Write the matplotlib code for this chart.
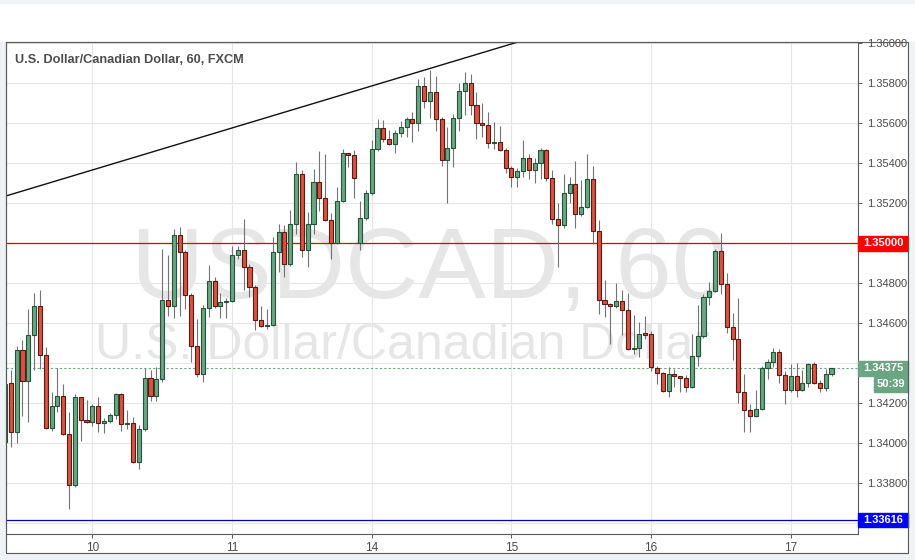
import matplotlib
matplotlib.use("Agg")
import matplotlib.pyplot as plt
from matplotlib.patches import Rectangle
from matplotlib.transforms import blended_transform_factory
import numpy as np

# USDCAD hourly candles
opens = [1.34008, 1.34301, 1.34059, 1.34468, 1.34314, 1.34541, 1.34688, 1.34441, 1.34076, 1.34188,
         1.34238, 1.34046, 1.33791, 1.34231, 1.34116, 1.34106, 1.34186, 1.34101, 1.34111, 1.34141,
         1.34246, 1.34096, 1.34101, 1.33906, 1.34071, 1.34326, 1.34239, 1.34321, 1.34716, 1.34686,
         1.35041, 1.34956, 1.34741, 1.34486, 1.34346, 1.34676, 1.34811, 1.34686, 1.34706, 1.34711,
         1.34941, 1.34966, 1.34881, 1.34781, 1.34616, 1.34586, 1.34591, 1.34956, 1.35056, 1.34896,
         1.35098, 1.35346, 1.34966, 1.35098, 1.35306, 1.35226, 1.35116, 1.35003, 1.35211, 1.35451,
         1.35441, 1.35003, 1.35126, 1.35251, 1.35471, 1.35576, 1.35521, 1.35496, 1.35551, 1.35581,
         1.35621, 1.35601, 1.35788, 1.35714, 1.35756, 1.35621, 1.35418, 1.35476, 1.35626, 1.35761,
         1.35801, 1.35691, 1.35601, 1.35591, 1.35501, 1.35506, 1.35468, 1.35376, 1.35331, 1.35361,
         1.35426, 1.35366, 1.35401, 1.35468, 1.35326, 1.35121, 1.35091, 1.35251, 1.35296, 1.35148,
         1.35181, 1.35321, 1.35063, 1.34716, 1.34698, 1.34688, 1.34711, 1.34666, 1.34471, 1.34476,
         1.34550, 1.34546, 1.34379, 1.34351, 1.34261, 1.34346, 1.34336, 1.34326, 1.34281, 1.34436,
         1.34536, 1.34731, 1.34762, 1.34961, 1.34796, 1.34584, 1.34521, 1.34256, 1.34166, 1.34136,
         1.34174, 1.34376, 1.34406, 1.34456, 1.34341, 1.34266, 1.34338, 1.34266, 1.34301, 1.34396,
         1.34301, 1.34276, 1.34346]
highs = [1.34318, 1.34368, 1.34487, 1.34518, 1.34673, 1.34751, 1.34768, 1.34481, 1.34258, 1.34379,
         1.34298, 1.34156, 1.34248, 1.34233, 1.34218, 1.34196, 1.34233, 1.34126, 1.34153, 1.34254,
         1.34250, 1.34168, 1.34134, 1.34093, 1.34379, 1.34368, 1.34381, 1.34973, 1.34943, 1.35071,
         1.35081, 1.34968, 1.34754, 1.34623, 1.34693, 1.34893, 1.34831, 1.34751, 1.34726, 1.34988,
         1.34988, 1.35121, 1.34898, 1.34793, 1.34688, 1.34671, 1.35031, 1.35098, 1.35093, 1.35168,
         1.35409, 1.35368, 1.35156, 1.35373, 1.35464, 1.35448, 1.35151, 1.35284, 1.35471, 1.35455,
         1.35468, 1.35213, 1.35268, 1.35518, 1.35621, 1.35618, 1.35568, 1.35568, 1.35614, 1.35634,
         1.35659, 1.35823, 1.35834, 1.35868, 1.35838, 1.35631, 1.35581, 1.35648, 1.35804, 1.35859,
         1.35846, 1.35756, 1.35704, 1.35656, 1.35609, 1.35588, 1.35476, 1.35388, 1.35376, 1.35518,
         1.35448, 1.35426, 1.35476, 1.35472, 1.35368, 1.35201, 1.35348, 1.35331, 1.35413, 1.35318,
         1.35448, 1.35388, 1.35118, 1.34818, 1.34702, 1.34801, 1.34768, 1.34751, 1.34643, 1.34609,
         1.34638, 1.34564, 1.34387, 1.34355, 1.34384, 1.34373, 1.34340, 1.34343, 1.34546, 1.34694,
         1.34747, 1.34809, 1.34971, 1.35054, 1.34851, 1.34651, 1.34726, 1.34348, 1.34198, 1.34268,
         1.34389, 1.34421, 1.34479, 1.34473, 1.34363, 1.34396, 1.34401, 1.34368, 1.34401, 1.34406,
         1.34318, 1.34373, 1.34379]
lows = [1.33983, 1.33984, 1.34001, 1.34139, 1.34109, 1.34368, 1.34371, 1.34073, 1.34064, 1.34159,
        1.34043, 1.33674, 1.33784, 1.34014, 1.34100, 1.34089, 1.34059, 1.34054, 1.34102, 1.34121,
        1.34064, 1.34071, 1.33903, 1.33874, 1.34063, 1.34214, 1.34214, 1.34309, 1.34639, 1.34629,
        1.34639, 1.34671, 1.34409, 1.34331, 1.34306, 1.34634, 1.34678, 1.34626, 1.34626, 1.34705,
        1.34921, 1.34768, 1.34734, 1.34568, 1.34581, 1.34571, 1.34585, 1.34859, 1.34834, 1.34885,
        1.35048, 1.34931, 1.34881, 1.35048, 1.35164, 1.35110, 1.34921, 1.34998, 1.35205, 1.35381,
        1.35226, 1.34968, 1.35120, 1.35245, 1.35465, 1.35509, 1.35490, 1.35451, 1.35534, 1.35531,
        1.35509, 1.35564, 1.35676, 1.35626, 1.35564, 1.35389, 1.35201, 1.35381, 1.35564, 1.35643,
        1.35643, 1.35521, 1.35531, 1.35476, 1.35473, 1.35462, 1.35354, 1.35284, 1.35284, 1.35334,
        1.35321, 1.35304, 1.35321, 1.35314, 1.35098, 1.34884, 1.35076, 1.35204, 1.35076, 1.35138,
        1.35175, 1.34996, 1.34646, 1.34631, 1.34496, 1.34676, 1.34543, 1.34466, 1.34446, 1.34434,
        1.34521, 1.34363, 1.34296, 1.34258, 1.34234, 1.34281, 1.34259, 1.34259, 1.34277, 1.34387,
        1.34530, 1.34693, 1.34756, 1.34748, 1.34551, 1.34418, 1.34201, 1.34059, 1.34059, 1.34130,
        1.34168, 1.34321, 1.34384, 1.34301, 1.34196, 1.34256, 1.34234, 1.34260, 1.34284, 1.34296,
        1.34259, 1.34264, 1.34339]
closes = [1.34298, 1.34059, 1.34468, 1.34314, 1.34541, 1.34688, 1.34441, 1.34076, 1.34188, 1.34238,
          1.34046, 1.33791, 1.34231, 1.34116, 1.34106, 1.34186, 1.34101, 1.34111, 1.34141, 1.34246,
          1.34096, 1.34101, 1.33906, 1.34071, 1.34326, 1.34239, 1.34321, 1.34716, 1.34686, 1.35041,
          1.34956, 1.34741, 1.34486, 1.34346, 1.34676, 1.34811, 1.34686, 1.34706, 1.34711, 1.34941,
          1.34966, 1.34881, 1.34781, 1.34616, 1.34586, 1.34591, 1.34956, 1.35056, 1.34896, 1.35098,
          1.35346, 1.34966, 1.35098, 1.35306, 1.35226, 1.35116, 1.35003, 1.35211, 1.35451, 1.35441,
          1.35326, 1.35126, 1.35251, 1.35471, 1.35576, 1.35521, 1.35496, 1.35551, 1.35581, 1.35621,
          1.35601, 1.35788, 1.35714, 1.35756, 1.35621, 1.35418, 1.35476, 1.35626, 1.35761, 1.35801,
          1.35691, 1.35601, 1.35591, 1.35501, 1.35506, 1.35468, 1.35376, 1.35331, 1.35361, 1.35426,
          1.35366, 1.35401, 1.35468, 1.35326, 1.35121, 1.35091, 1.35251, 1.35296, 1.35148, 1.35181,
          1.35321, 1.35063, 1.34716, 1.34698, 1.34688, 1.34711, 1.34666, 1.34471, 1.34476, 1.34546,
          1.34543, 1.34384, 1.34351, 1.34261, 1.34346, 1.34336, 1.34326, 1.34281, 1.34436, 1.34536,
          1.34731, 1.34762, 1.34961, 1.34796, 1.34584, 1.34521, 1.34256, 1.34166, 1.34136, 1.34174,
          1.34376, 1.34406, 1.34456, 1.34341, 1.34266, 1.34338, 1.34266, 1.34301, 1.34396, 1.34301,
          1.34276, 1.34346, 1.34375]

day_labels = ["10", "11", "14", "15", "16", "17"]
day_start = [15, 39, 63, 87, 111, 135]  # candle index of each day's first bar
price_ticks = [1.336, 1.338, 1.340, 1.342, 1.344, 1.346, 1.348, 1.350, 1.352, 1.354, 1.356, 1.358, 1.360]

level_red = 1.35000
level_blue = 1.33616
last_price = 1.34375
countdown = "50:39"
trend_x = [0.2, 87.6]
trend_y = [1.35238, 1.36003]

title = "U.S. Dollar/Canadian Dollar, 60, FXCM"
watermark1 = "USDCAD, 60"
watermark2 = "U.S. Dollar/Canadian Dollar"

UP, UP_EDGE = "#6ba583", "#225437"
DOWN, DOWN_EDGE = "#d75442", "#5b1a13"
WICK = "#737375"
TEXT = "#4a4a4a"
FRAME = "#5a5a5a"

W, H = 915, 560
plt.rcParams["font.family"] = ["Liberation Sans", "DejaVu Sans"]

fig = plt.figure(figsize=(W / 100, H / 100), dpi=100, facecolor="white")

# light grey margins around the chart panel
for x0, y0, x1, y1 in [(0, 0, W, 3), (0, 42, 6.3, H), (908, 42, W, H), (0, 553, W, H)]:
    fig.patches.append(Rectangle((x0 / W, 1 - y1 / H), (x1 - x0) / W, (y1 - y0) / H,
                                 transform=fig.transFigure, color="#f0f3f6", zorder=-1))
fig.patches.append(Rectangle((6.3 / W, 1 - 553 / H), (908 - 6.3) / W, (553 - 42.3) / H,
                             transform=fig.transFigure, fill=False, ec=FRAME, lw=0.8, zorder=5))

ax = fig.add_axes([6.3 / W, 1 - 534 / H, (858.3 - 6.3) / W, (534 - 42.3) / H])
ax.set_xlim(0.22, 146.6)
ax.set_ylim(1.335475, 1.36006)

o = np.array(opens)
h = np.array(highs)
l = np.array(lows)
c = np.array(closes)
x = np.arange(len(o))
up = c >= o
bottom = np.minimum(o, c)
height = np.maximum(np.abs(c - o), 0.00003)

ax.vlines(x, l, h, color=WICK, lw=0.8, zorder=3)
ax.bar(x[up], height[up], bottom=bottom[up], width=0.7, color=UP, edgecolor=UP_EDGE,
       linewidth=0.8, zorder=4)
ax.bar(x[~up], height[~up], bottom=bottom[~up], width=0.7, color=DOWN, edgecolor=DOWN_EDGE,
       linewidth=0.8, zorder=4)

# watermark
ax.text(0.497, 0.48, watermark1, transform=ax.transAxes, ha="center", va="baseline",
        fontsize=73, color="#e6e6e6", zorder=0)
ax.text(0.465, 0.355, watermark2, transform=ax.transAxes, ha="center", va="baseline",
        fontsize=36, color="#e6e6e6", zorder=0)

# levels and trend line
ax.axhline(level_red, color="#e00000", lw=0.9, zorder=2)
ax.axhline(level_blue, color="#0000c8", lw=0.9, zorder=2)
ax.axhline(last_price, color=UP, lw=0.8, ls=(0, (2, 2)), zorder=2)
slope = (trend_y[1] - trend_y[0]) / (trend_x[1] - trend_x[0])
tx = np.array([trend_x[0], trend_x[1] + 10])
ax.plot(tx, trend_y[0] + (tx - trend_x[0]) * slope, color="#111111", lw=1.0, zorder=2)

# axes styling; scale labels hidden behind a price tag are left blank
tags = [level_red, level_blue, last_price]
ax.set_yticks(price_ticks)
ax.set_yticklabels(["" if min(abs(p - t) for t in tags) < 0.0005 else f"{p:.5f}"
                    for p in price_ticks])
ax.set_xticks(day_start)
ax.set_xticklabels(day_labels)
ax.yaxis.tick_right()
ax.grid(color="#e6e6e6", lw=0.8)
ax.set_axisbelow(True)
ax.tick_params(axis="y", direction="out", length=3, width=0.7, color=FRAME,
               labelcolor=TEXT, labelsize=8, pad=3)
ax.tick_params(axis="x", direction="out", length=3, width=0.7, color=FRAME,
               labelcolor=TEXT, labelsize=8.5, pad=3)
for s in ax.spines.values():
    s.set_color(FRAME)
    s.set_linewidth(0.8)

ax.text(0.0102, 0.964, title, transform=ax.transAxes, ha="left", va="center",
        fontsize=9.2, fontweight="bold", color="#4d4d4d", zorder=6)

# price tags on the right scale
trans = blended_transform_factory(ax.transAxes, ax.transData)


def price_tag(y, text, color, x0=1.0, x1=1.0583, hgt=0.00072):
    ax.add_patch(Rectangle((x0, y - hgt / 2), x1 - x0, hgt, transform=trans, color=color,
                           clip_on=False, zorder=7))
    ax.text((x0 + x1) / 2, y, text, transform=trans, ha="center", va="center", color="white",
            fontsize=8, fontweight="bold", clip_on=False, zorder=8)


price_tag(level_red, f"{level_red:.5f}", "#ff0000")
price_tag(level_blue, f"{level_blue:.5f}", "#0000ff")
price_tag(last_price, f"{last_price:.5f}", UP)
price_tag(last_price - 0.0008, countdown, UP, x0=1.0184)

fig.savefig("out.png", dpi=100)
